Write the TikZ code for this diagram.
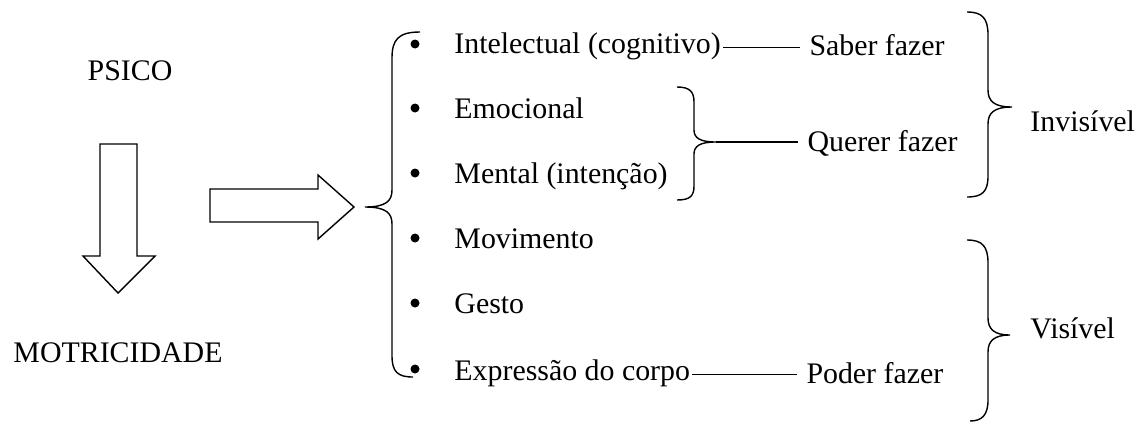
\documentclass[tikz,border=0pt]{standalone}
\usepackage{fontspec}
\setmainfont{Liberation Serif}
\usepackage{tikz}

\begin{document}
\begin{tikzpicture}[x=0.02cm,y=-0.02cm,line width=0.8pt,
  txt/.style={font=\rmfamily\fontsize{17}{20}\selectfont,text height=0.75em,text depth=0.15em,inner ysep=0pt,inner xsep=1pt,anchor=base west},
  lbl/.style={txt,inner xsep=5pt}]
\useasboundingbox (0,0) rectangle (1148,423);
\node[txt,anchor=base] (psico) at (130,80) {PSICO};
\node[txt,anchor=base] (motr) at (118,362) {MOTRICIDADE};
\draw (100,144) -- (137,144) -- (137,256) -- (155,256) -- (118,293) -- (83,256) -- (100,256) -- cycle;
\draw (210,189) -- (318,189) -- (318,175) -- (354,207) -- (318,239) -- (318,222) -- (210,222) -- cycle;
\draw (420,32) .. controls (398,32) and (392,40) .. (392,58) -- (392,190) .. controls (392,201) and (386,207) .. (365,207) .. controls (386,207) and (392,213) .. (392,224) -- (392,356) .. controls (392,372) and (398,377) .. (413,377);
\node[txt] (intel) at (452,53) {Intelectual (cognitivo)};
\node[txt] (emoc) at (452,118) {Emocional};
\node[txt] (ment) at (452,183) {Mental (intenção)};
\node[txt] (movi) at (452,248) {Movimento};
\node[txt] (gest) at (452,313) {Gesto};
\node[txt] (expr) at (452,380) {Expressão do corpo};
\fill (415,44) circle (4.5);
\fill (415,108) circle (4.5);
\fill (415,173) circle (4.5);
\fill (415,238) circle (4.5);
\fill (415,303) circle (4.5);
\fill (415,369) circle (4.5);
\draw (677,87) .. controls (690,87) and (694,92) .. (694,102) -- (694,130) .. controls (694,138) and (700,142) .. (716,142) .. controls (700,142) and (694,146) .. (694,154) -- (694,186) .. controls (694,196) and (690,200) .. (677,200);
\coordinate (etip) at (716,142);
\node[lbl] (saber) at (800,55) {Saber fazer};
\node[lbl] (querer) at (798,151) {Querer fazer};
\node[lbl] (poder) at (797,383) {Poder fazer};
\draw (intel.east) -- (intel.east -| saber.west);
\draw (etip) -- (etip -| querer.west);
\draw (expr.east) -- (expr.east -| poder.west);
\draw (967,12) .. controls (982,12) and (988,18) .. (988,35) -- (988,90) .. controls (988,101) and (994,107) .. (1012,107) .. controls (994,107) and (988,113) .. (988,124) -- (988,176) .. controls (988,192) and (982,197) .. (967,197);
\draw (967,240) .. controls (982,240) and (988,246) .. (988,263) -- (988,318) .. controls (988,329) and (994,335) .. (1010,335) .. controls (994,335) and (988,341) .. (988,352) -- (988,400) .. controls (988,415) and (982,421) .. (970,421);
\node[txt] (invis) at (1028,131) {Invisível};
\node[txt] (visi) at (1028,338) {Visível};
\end{tikzpicture}
\end{document}
